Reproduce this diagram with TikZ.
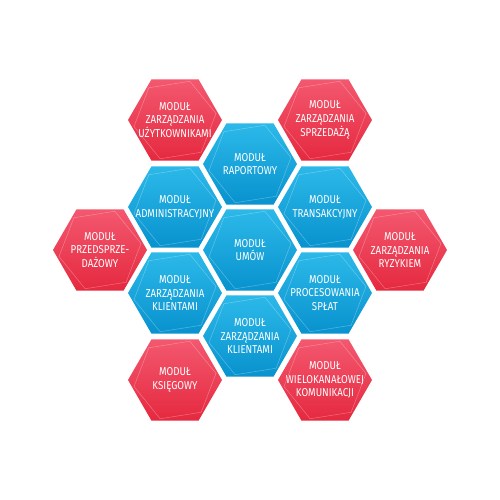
\documentclass[tikz,border=0pt]{standalone}
\usepackage{fontspec}
\setsansfont{Fira Sans}[FakeStretch=0.85]
\usepackage{tikz}
\usetikzlibrary{shapes.geometric}

\definecolor{bluetop}{HTML}{2CB9E9}
\definecolor{bluebot}{HTML}{0892CE}
\definecolor{redtop}{HTML}{F3586F}
\definecolor{redbot}{HTML}{E5293F}

\begin{document}
\begin{tikzpicture}[
    x=0.2mm, y=-0.2mm,
    hex/.style={regular polygon, regular polygon sides=6, minimum size=18.8mm,
        inner sep=0pt, outer sep=0pt},
    hextext/.style={align=center, text=white, inner sep=0pt,
        font=\sffamily\fontsize{6.5}{7.8}\selectfont},
    bluehex/.style={hex, top color=bluetop, bottom color=bluebot,
        label={[hextext]center:#1}},
    redhex/.style={hex, top color=redtop, bottom color=redbot,
        label={[hextext]center:#1}},
    deco/.style={regular polygon, regular polygon sides=6, minimum size=16.6mm,
        shape border rotate=9, draw=white, draw opacity=0.3, line width=0.3pt}
]
\useasboundingbox (0,0) rectangle (500,500);

% blue core
\node[bluehex={MODUŁ\\RAPORTOWY}] (rap) at (250,164) {};
\node[bluehex={MODUŁ\\ADMINISTRACYJNY}] (adm) at (175,207) {};
\node[bluehex={MODUŁ\\TRANSAKCYJNY}] (tra) at (325,207) {};
\node[bluehex={MODUŁ\\UMÓW}] (umo) at (250,250) {};
\node[bluehex={MODUŁ\\ZARZĄDZANIA\\KLIENTAMI}] (kli) at (175,293) {};
\node[bluehex={MODUŁ\\PROCESOWANIA\\SPŁAT}] (pro) at (325,293) {};
\node[bluehex={MODUŁ\\ZARZĄDZANIA\\KLIENTAMI}] (klb) at (250,336) {};

% red ring
\node[redhex={MODUŁ\\ZARZĄDZANIA\\UŻYTKOWNIKAMI}] (uzy) at (175,120) {};
\node[redhex={MODUŁ\\ZARZĄDZANIA\\SPRZEDAŻĄ}] (spr) at (325,120) {};
\node[redhex={MODUŁ\\PRZEDSPRZE-\\DAŻOWY}] (prz) at (100,250) {};
\node[redhex={MODUŁ\\ZARZĄDZANIA\\RYZYKIEM}] (ryz) at (400,250) {};
\node[redhex={MODUŁ\\KSIĘGOWY}] (ksi) at (175,380) {};
\node[redhex={MODUŁ\\WIELOKANAŁOWEJ\\KOMUNIKACJI}] (wie) at (325,380) {};

% thin inner outlines
\foreach \n in {rap,adm,tra,umo,kli,pro,klb,uzy,spr,prz,ryz,ksi,wie}
    \node[deco] at (\n.center) {};

\end{tikzpicture}
\end{document}
